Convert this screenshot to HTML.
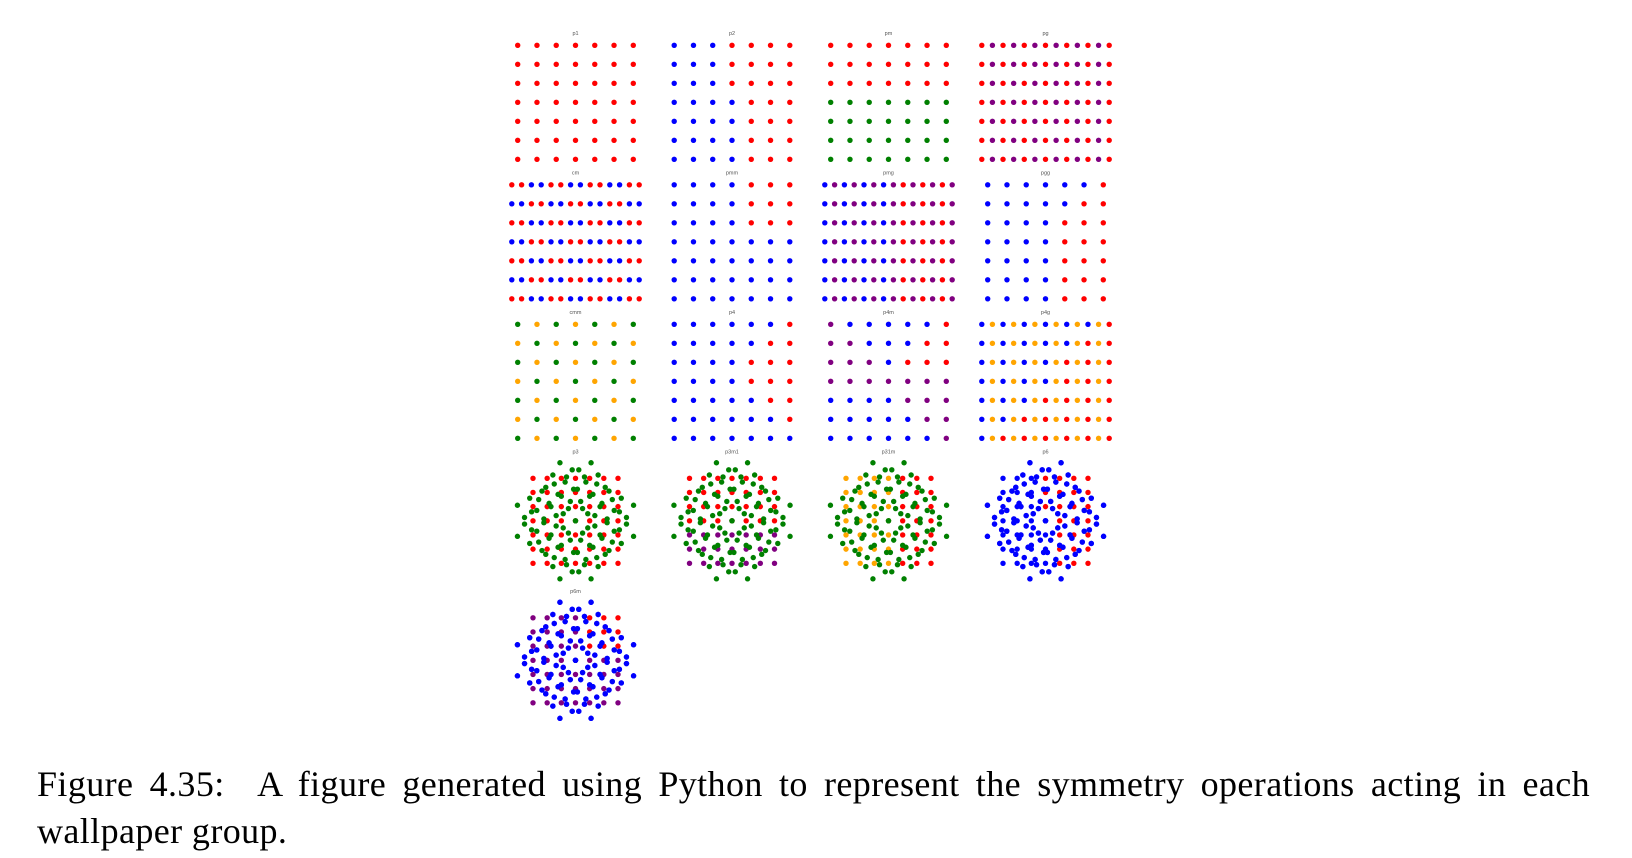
<!DOCTYPE html>
<html><head><meta charset="utf-8"><style>
html,body{margin:0;padding:0;background:#fff;width:1632px;height:858px;overflow:hidden}
.cap{position:absolute;left:37px;width:1553px;font-family:"Liberation Serif",serif;font-size:36px;line-height:47px;color:#000;white-space:nowrap;letter-spacing:0.4px}
#cap1{top:761px;text-align:justify;text-align-last:justify;white-space:normal}
#cap2{top:808px}
</style></head><body>
<svg id="fig" width="1632" height="858" style="position:absolute;left:0;top:0"></svg>
<div id="cap1" class="cap">Figure 4.35: &nbsp;A figure generated using Python to represent the symmetry operations acting in each</div>
<div id="cap2" class="cap">wallpaper group.</div>
<script>
const titles=["p1","p2","pm","pg","cm","pmm","pmg","pgg","cmm","p4","p4m","p4g","p3","p3m1","p31m","p6","p6m"];
const gridP1=["RRRRRRR","RRRRRRR","RRRRRRR","RRRRRRR","RRRRRRR","RRRRRRR","RRRRRRR"];
const gridP2=["BBBRRRR","BBBRRRR","BBBRRRR","BBBBRRR","BBBBRRR","BBBBRRR","BBBBRRR"];
const gridPm=["RRRRRRR","RRRRRRR","RRRRRRR","GGGGGGG","GGGGGGG","GGGGGGG","GGGGGGG"];
const gridPg=["RPRPRPRPRPRPR","RPRPRPRPRPRPR","RPRPRPRPRPRPR","RPRPRPRPRPRPR","RPRPRPRPRPRPR","RPRPRPRPRPRPR","RPRPRPRPRPRPR"];
const gridCm=["RRBBRRBBRRBBRR","BBRRBBRRBBRRBB","RRBBRRBBRRBBRR","BBRRBBRRBBRRBB","RRBBRRBBRRBBRR","BBRRBBRRBBRRBB","RRBBRRBBRRBBRR"];
const gridPmm=["BBBBRRR","BBBBRRR","BBBBRRR","BBBBBBB","BBBBBBB","BBBBBBB","BBBBBBB"];
const gridPmg=["BPBPBPBPRPRPRP","BPBPBPBPRPRPRP","BPBPBPBPRPRPRP","BPBPBPBPRPRPRP","BPBPBPBPRPRPRP","BPBPBPBPRPRPRP","BPBPBPBPRPRPRP"];
const gridPgg=["BBBBBBR","BBBBBRR","BBBBRRR","BBBBRRR","BBBBRRR","BBBBRRR","BBBBRRR"];
const gridCmm=["GOGOGOG","OGOGOGO","GOGOGOG","OGOGOGO","GOGOGOG","OGOGOGO","GOGOGOG"];
const gridP4=["BBBBBBR","BBBBBRR","BBBBRRR","BBBBRRR","BBBBBRR","BBBBBBR","BBBBBBB"];
const gridP4m=["PBBBBBR","PPBBBRR","PPPBRRR","PPPPPPP","BBBBPPP","BBBBBPP","BBBBBBP"];
const gridP4g=["BOBOBOBOBOBOR","BOBOBOBOBOROR","BOBOBOBOROROR","BOBOBOBOROROR","BOBOBOROROROR","BOBOROROROROR","BOROROROROROR"];
const gridP3=["RRRRRRR","RRRRRRR","RRRRRRR","RRRRRRR","RRRRRRR","RRRRRRR","RRRRRRR"];
const gridP3m1=["RRRRRRR","RRRRRRR","RRRRRRR","RRRRRRR","PPPPPPP","PPPPPPP","PPPPPPP"];
const gridP31m=["OOOORRR","OOOORRR","OOOORRR","OOOORRR","OOOORRR","OOOORRR","OOOORRR"];
const gridP6=["BBBRRRR","BBBRRRR","BBBRRRR","BBBBRRR","BBBBRRR","BBBBRRR","BBBBRRR"];
const gridP6m=["PPPPRRR","PPPPRRR","PPPPRRR","PPPPPPP","PPPPPPP","PPPPPPP","PPPPPPP"];
const grids=[gridP1,gridP2,gridPm,gridPg,gridCm,gridPmm,gridPmg,gridPgg,gridCmm,gridP4,gridP4m,gridP4g,gridP3,gridP3m1,gridP31m,gridP6,gridP6m];
const rotDegrees=[[],[],[],[],[],[],[],[],[],[],[],[],[120,240],[120,240],[120,240],[60,120,240,300],[60,120,240,300]];
const rotColor=["","","","","","","","","","","","","G","G","G","B","B"];
const colorMap={R:"#ff0000",B:"#0000ff",G:"#008000",P:"#800080",O:"#ffa500"};

const svg=document.getElementById('fig');
const NS="http://www.w3.org/2000/svg";
const colX=[575.5,732,888.5,1045.5];
const rowTop=45.3, rowStep=139.5, dotStep=19;
function panelX(i){return colX[i%4];}
function panelCY(i){return rowTop+Math.floor(i/4)*rowStep+57;}
function dot(x,y,c){
  const e=document.createElementNS(NS,'circle');
  e.setAttribute('cx',x.toFixed(2));e.setAttribute('cy',y.toFixed(2));e.setAttribute('r','2.7');e.setAttribute('fill',c);
  
  
  svg.appendChild(e);
}
titles.forEach((t,i)=>{
  const cx=panelX(i), cy=panelCY(i), g=grids[i];
  const tx=document.createElementNS(NS,'text');
  tx.setAttribute('x',cx);tx.setAttribute('y',cy-67.5);tx.setAttribute('text-anchor','middle');
  tx.setAttribute('font-family','Liberation Sans, sans-serif');tx.setAttribute('font-size','5.5');tx.setAttribute('fill','#555');
  tx.textContent=t;
  
  
  svg.appendChild(tx);
  const nc=g[0].length;
  const hex=rotDegrees[i].length>0;
  const half=hex?42.5:(nc>7?63.7:57.8);
  const sx=(2*half)/(nc-1), sy=hex?(2*half/6):dotStep;
  const pts=[];
  g.forEach((row,r)=>{for(let c=0;c<nc;c++){pts.push([-half+c*sx,(r-3)*sy,row[c]]);}});
  pts.forEach(p=>dot(cx+p[0],cy+p[1],colorMap[p[2]]));
  rotDegrees[i].forEach(d=>{
    const a=d*Math.PI/180,ca=Math.cos(a),sa=Math.sin(a);
    pts.forEach(p=>dot(cx+p[0]*ca-p[1]*sa,cy+p[0]*sa+p[1]*ca,colorMap[rotColor[i]]));
  });
});
</script>
</body></html>
